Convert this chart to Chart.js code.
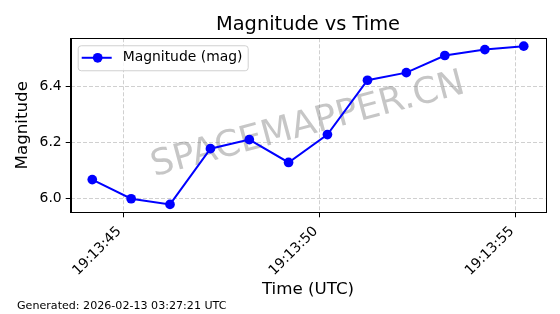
<!DOCTYPE html>
<html>
<head>
<meta charset="utf-8">
<script src="https://cdn.jsdelivr.net/npm/chart.js@4.4.1/dist/chart.umd.min.js"></script>
<style>
html, body { margin: 0; padding: 0; background: #fff; }
#wrap { width: 560px; height: 314px; position: relative; }
</style>
</head>
<body>
<div id="wrap"><canvas id="magchart" width="560" height="314"></canvas></div>
<script>
"use strict";

// --- Data
const timeLabels = [
    "19:13:44.21", "19:13:45.20", "19:13:46.19", "19:13:47.22",
    "19:13:48.21", "19:13:49.21", "19:13:50.20", "19:13:51.22",
    "19:13:52.21", "19:13:53.19", "19:13:54.21", "19:13:55.20",
];
const magnitudes = [
    6.068, 6.000, 5.980, 6.178, 6.210, 6.129,
    6.228, 6.421, 6.448, 6.509, 6.530, 6.542,
];
const xTickLabels = ["19:13:45", "19:13:50", "19:13:55"];
const yTickValues = [6.0, 6.2, 6.4];
const seriesLabel = "Magnitude (mag)";
const chartTitle = "Magnitude vs Time";
const xAxisTitle = "Time (UTC)";
const yAxisTitle = "Magnitude";
const watermarkText = "SPACEMAPPER.CN";
const footerText = "Generated: 2026-02-13 03:27:21 UTC";

const FONT = "'DejaVu Sans', sans-serif";

function toSeconds(str) {
    const p = str.split(":").map(Number);
    return p[0] * 3600 + p[1] * 60 + p[2];
}
function fmtTime(sec) {
    const s = Math.round(sec);
    const h = Math.floor(s / 3600);
    const m = Math.floor((s % 3600) / 60);
    const ss = s % 60;
    const pad = (n) => String(n).padStart(2, "0");
    return pad(h) + ":" + pad(m) + ":" + pad(ss);
}

const times = timeLabels.map(toSeconds);
const points = times.map((t, i) => ({ x: t, y: magnitudes[i] }));
const xTickValues = xTickLabels.map(toSeconds);

// matplotlib-style 5% margins
const xLo = Math.min(...times), xHi = Math.max(...times);
const yLo = Math.min(...magnitudes), yHi = Math.max(...magnitudes);
const xPad = (xHi - xLo) * 0.05, yPad = (yHi - yLo) * 0.05;

const extrasPlugin = {
    id: "extras",
    beforeDatasetsDraw(chart) {
        const { ctx, chartArea: a } = chart;
        ctx.save();
        ctx.translate((a.left + a.right) / 2, (a.top + a.bottom) / 2);
        ctx.rotate(-15 * Math.PI / 180);
        ctx.font = "36px " + FONT;
        ctx.fillStyle = "rgba(128,128,128,0.45)";
        ctx.textAlign = "center";
        ctx.textBaseline = "middle";
        ctx.fillText(watermarkText, 0, 0);
        ctx.restore();
    },
    afterDatasetsDraw(chart) {
        const { ctx, chartArea: a } = chart;
        // frame
        ctx.save();
        ctx.strokeStyle = "#000";
        ctx.lineWidth = 1;
        ctx.strokeRect(Math.round(a.left) + 0.5, Math.round(a.top) + 0.5,
            Math.round(a.right - a.left), Math.round(a.bottom - a.top));

        // legend
        const lx = a.left + 7, ly = a.top + 7, lw = 170, lh = 25;
        ctx.beginPath();
        ctx.roundRect(lx + 0.5, ly + 0.5, lw, lh, 3);
        ctx.fillStyle = "rgba(255,255,255,0.8)";
        ctx.fill();
        ctx.strokeStyle = "#d0d0d0";
        ctx.stroke();
        const ds = chart.data.datasets[0];
        const cy = ly + 12.5;
        ctx.beginPath();
        ctx.moveTo(lx + 4, cy);
        ctx.lineTo(lx + 34, cy);
        ctx.strokeStyle = ds.borderColor;
        ctx.lineWidth = 2;
        ctx.stroke();
        ctx.beginPath();
        ctx.arc(lx + 20, cy, 4.85, 0, Math.PI * 2);
        ctx.fillStyle = ds.pointBackgroundColor;
        ctx.fill();
        ctx.fillStyle = "#000";
        ctx.font = "13.9px " + FONT;
        ctx.textBaseline = "middle";
        ctx.fillText(ds.label, lx + 45, cy);

        // footer
        ctx.font = "11.1px " + FONT;
        ctx.textBaseline = "alphabetic";
        ctx.fillText(footerText, 17, 309);
        ctx.restore();
    },
};

const canvas = document.getElementById("magchart");
new Chart(canvas.getContext("2d"), {
    type: "line",
    data: {
        datasets: [
            {
                label: seriesLabel,
                data: points,
                borderColor: "#0000ff",
                backgroundColor: "#0000ff",
                pointBackgroundColor: "#0000ff",
                pointBorderColor: "#0000ff",
                pointRadius: 4.85,
                pointBorderWidth: 0,
                borderWidth: 2,
                tension: 0,
                fill: false,
            },
        ],
    },
    options: {
        responsive: false,
        animation: false,
        devicePixelRatio: 1,
        layout: { padding: { top: 0, right: 14.7, bottom: 14, left: 0 } },
        plugins: {
            legend: { display: false },
            tooltip: { enabled: false },
            title: {
                display: true,
                text: chartTitle,
                fullSize: false,
                color: "#000",
                font: { family: FONT, size: 19.4, weight: "normal" },
                padding: { top: 13.4, bottom: 1.6 },
            },
        },
        scales: {
            x: {
                type: "linear",
                min: xLo - xPad,
                max: xHi + xPad,
                afterBuildTicks: (s) => { s.ticks = xTickValues.map((v) => ({ value: v })); },
                afterFit: (s) => { s.height = 87.7; },
                ticks: {
                    callback: (v) => fmtTime(v),
                    autoSkip: false,
                    minRotation: 45,
                    maxRotation: 45,
                    color: "#000",
                    padding: 6,
                    labelOffset: -4,
                    font: { family: FONT, size: 13.9 },
                },
                grid: {
                    color: "#d0d0d0",
                    tickColor: "#000",
                    tickLength: 5,
                    lineWidth: 1,
                },
                border: { display: true, color: "#000", dash: [4, 2] },
                title: {
                    display: true,
                    text: xAxisTitle,
                    color: "#000",
                    font: { family: FONT, size: 16.7 },
                    padding: { top: 4, bottom: 0 },
                },
            },
            y: {
                type: "linear",
                min: yLo - yPad,
                max: yHi + yPad,
                afterBuildTicks: (s) => { s.ticks = yTickValues.map((v) => ({ value: v })); },
                afterFit: (s) => { s.width = 70.7; },
                ticks: {
                    callback: (v) => Number(v).toFixed(1),
                    color: "#000",
                    padding: 4,
                    font: { family: FONT, size: 13.9 },
                },
                grid: {
                    color: "#d0d0d0",
                    tickColor: "#000",
                    tickLength: 5,
                    lineWidth: 1,
                },
                border: { display: true, color: "#000", dash: [4, 2] },
                title: {
                    display: true,
                    text: yAxisTitle,
                    color: "#000",
                    font: { family: FONT, size: 16.7 },
                    padding: { top: 13, bottom: 0 },
                },
            },
        },
    },
    plugins: [extrasPlugin],
});
</script>
</body>
</html>
